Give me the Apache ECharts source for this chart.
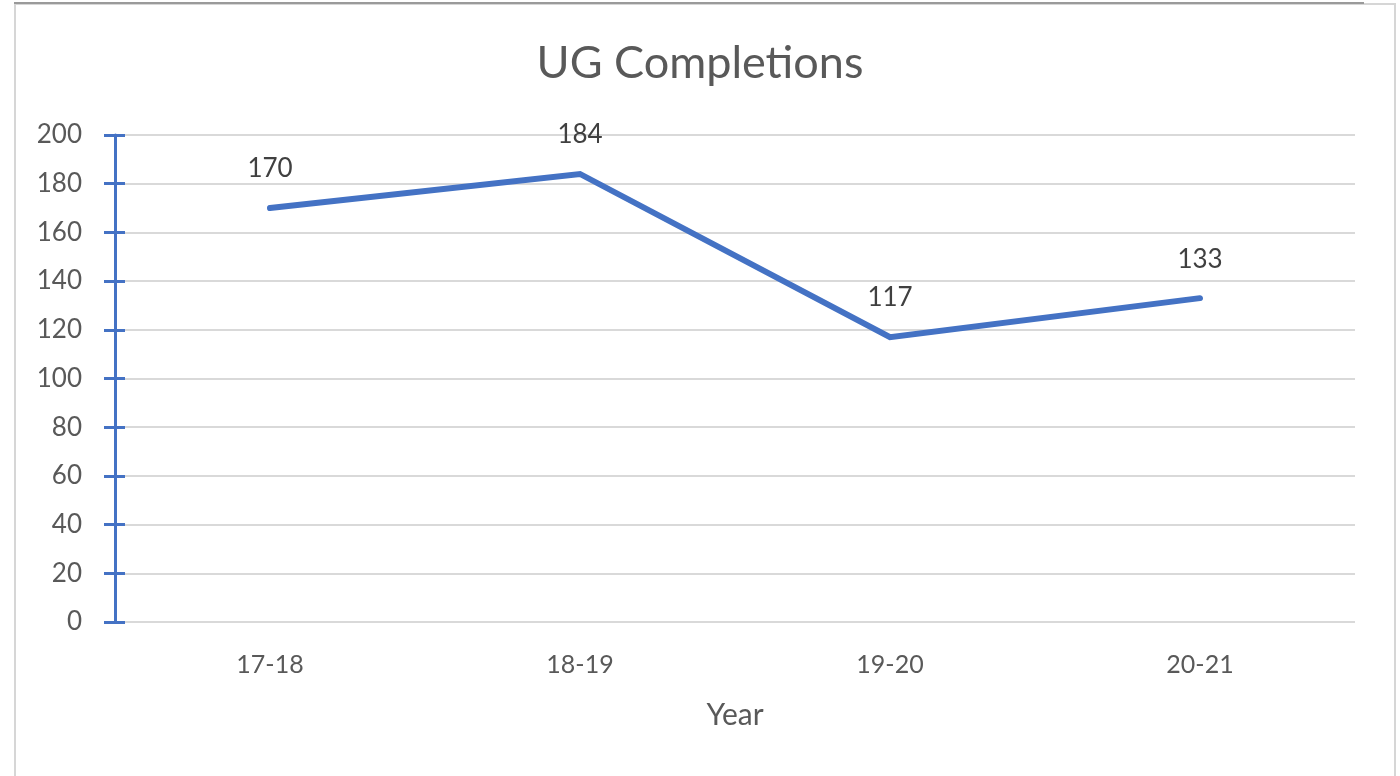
<!DOCTYPE html>
<html>
<head>
<meta charset="utf-8">
<script src="https://cdn.jsdelivr.net/npm/echarts@6/dist/echarts.min.js"></script>
<style>
  html, body { margin: 0; padding: 0; background: #fff; }
  #chart { width: 1400px; height: 776px; }
</style>
</head>
<body>
<div id="chart"></div>
<script>
const years = ['17-18', '18-19', '19-20', '20-21']
const completions = [170, 184, 117, 133]

const font = 'Lato, "Open Sans", sans-serif'
const blue = '#4472C4'

const chart = echarts.init(document.getElementById('chart'))

const yBase = {
  type: 'value',
  min: 0,
  max: 200,
  interval: 20
}

chart.setOption({
  animation: false,
  graphic: [
    {
      type: 'rect',
      shape: { x: 15, y: 4, width: 1380, height: 790 },
      style: { fill: 'none', stroke: '#d6d6d6', lineWidth: 2 },
      silent: true
    },
    {
      type: 'line',
      shape: { x1: 14, y1: 3, x2: 1364, y2: 3 },
      style: { stroke: '#9a9a9a', lineWidth: 2 },
      silent: true
    }
  ],
  title: {
    text: 'UG Completions',
    left: 'center',
    top: 36,
    textStyle: { fontFamily: font, fontSize: 45, fontWeight: 'normal', color: '#595959' }
  },
  grid: { left: 115, right: 45, top: 135, bottom: 154, containLabel: false },
  xAxis: {
    type: 'category',
    data: years,
    boundaryGap: true,
    name: 'Year',
    nameLocation: 'middle',
    nameGap: 78,
    nameTextStyle: { fontFamily: font, fontSize: 30, color: '#595959' },
    axisLine: { show: false },
    axisTick: { show: false },
    axisLabel: { fontFamily: font, fontSize: 25, color: '#595959', margin: 30 }
  },
  yAxis: [
    {
      ...yBase,
      axisLine: { show: true, lineStyle: { color: blue, width: 3 } },
      axisTick: { show: true, inside: false, length: 11, lineStyle: { color: blue, width: 3 } },
      axisLabel: { fontFamily: font, fontSize: 26, color: '#595959', margin: 33 },
      splitLine: { show: true, lineStyle: { color: '#d9d9d9', width: 2 } }
    },
    {
      ...yBase,
      position: 'left',
      axisLine: { show: false },
      axisTick: {
        show: true,
        inside: true,
        length: 10,
        lineStyle: { color: blue, width: 3 },
        interval: (i, v) => v !== 0
      },
      axisLabel: { show: false },
      splitLine: { show: false }
    }
  ],
  series: [
    {
      type: 'line',
      data: completions,
      yAxisIndex: 0,
      symbol: 'circle',
      symbolSize: 2,
      showSymbol: true,
      itemStyle: { color: blue },
      lineStyle: { color: blue, width: 6, cap: 'round', join: 'miter' },
      label: {
        show: true,
        position: 'top',
        distance: 25,
        fontFamily: font,
        fontSize: 26,
        color: '#404040'
      }
    }
  ]
})
</script>
</body>
</html>
